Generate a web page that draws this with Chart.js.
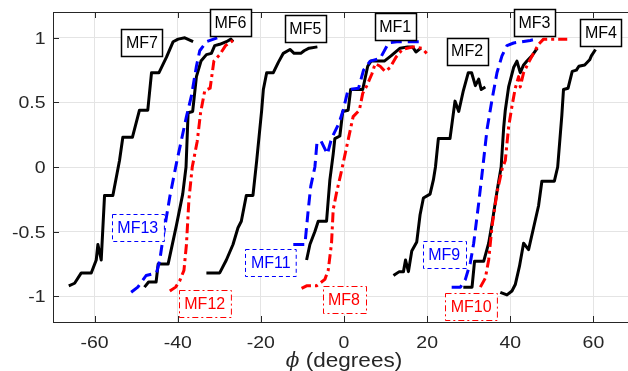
<!DOCTYPE html>
<html>
<head>
<meta charset="utf-8">
<script src="https://cdn.jsdelivr.net/npm/chart.js@4"></script>
<style>
  html, body { margin: 0; padding: 0; background: #fff; overflow: hidden; }
  #wrap { width: 650px; height: 371px; position: relative; }
</style>
</head>
<body>
<div id="wrap"><canvas id="chart"></canvas></div>
<script>
// ---- Data: [phi (deg), normalized output] per filter
const MF1 = [[-9.0,-0.72],[-8.2,-0.6],[-7.0,-0.5],[-6.2,-0.42],[-4.2,-0.42],[-3.4,-0.1],[-2.6,0.1],[-2.2,0.22],[-1.0,0.24],[-0.3,0.43],[1.0,0.44],[1.6,0.6],[4.5,0.6],[5.7,0.78],[6.5,0.82],[9.7,0.82],[11.3,0.86],[13.5,0.92],[15.3,0.93],[16.5,0.93],[17.3,0.89],[18.5,0.92]];
const MF2 = [[11.9,-0.84],[13.3,-0.81],[14.3,-0.81],[14.8,-0.72],[15.5,-0.81],[16.3,-0.65],[17.5,-0.58],[18.3,-0.37],[19.1,-0.24],[20.7,-0.21],[21.5,-0.1],[22.0,0],[22.7,0.22],[25.5,0.22],[26.7,0.51],[27.6,0.43],[28.7,0.59],[29.9,0.73],[30.7,0.73],[31.6,0.63],[32.4,0.68],[33.0,0.6],[34.0,0.62]];
const MF3 = [[28.7,-0.93],[30.8,-0.93],[31.4,-0.73],[33.6,-0.73],[34.8,-0.59],[35.6,-0.44],[36.8,-0.19],[37.8,0],[38.4,0.3],[38.8,0.44],[39.6,0.62],[40.8,0.77],[41.6,0.82],[42.4,0.73],[43.2,0.79],[44.0,0.82],[45.2,0.86],[46.5,0.92]];
const MF4 = [[37.6,-0.97],[39.2,-0.99],[40.4,-0.96],[41.2,-0.91],[42.2,-0.77],[43.2,-0.59],[44.4,-0.64],[45.6,-0.47],[46.8,-0.3],[47.6,-0.11],[50.6,-0.11],[51.4,0],[52.4,0.4],[52.8,0.6],[53.9,0.61],[54.9,0.74],[55.9,0.75],[56.5,0.78],[57.9,0.79],[59.1,0.83],[59.5,0.86],[60.5,0.91]];
const MF5 = [[-33.1,-0.82],[-29.9,-0.82],[-28.3,-0.72],[-26.7,-0.6],[-25.5,-0.47],[-24.7,-0.42],[-23.5,-0.22],[-21.9,-0.22],[-21.0,0.05],[-19.8,0.44],[-19.4,0.6],[-18.6,0.73],[-17.0,0.73],[-15.8,0.81],[-14.6,0.88],[-13.0,0.91],[-12.0,0.88],[-10.4,0.88],[-9.6,0.9],[-8.4,0.92],[-6.4,0.93]];
const MF6 = [[-48.0,-0.93],[-47.0,-0.89],[-45.2,-0.89],[-44.7,-0.75],[-42.3,-0.75],[-40.3,-0.45],[-38.8,-0.21],[-38.0,0],[-37.5,0.42],[-36.4,0.43],[-35.5,0.7],[-34.4,0.82],[-33.1,0.87],[-31.9,0.88],[-31.1,0.94],[-29.9,0.95],[-28.3,0.97],[-27.2,0.99],[-26.7,0.97]];
const MF7 = [[-66.2,-0.92],[-64.8,-0.9],[-63.2,-0.82],[-60.8,-0.82],[-59.6,-0.72],[-59.2,-0.6],[-58.4,-0.72],[-57.6,-0.22],[-55.6,-0.22],[-54.0,0.05],[-53.2,0.23],[-50.9,0.23],[-49.2,0.44],[-47.2,0.44],[-46.3,0.73],[-44.5,0.73],[-42.7,0.85],[-41.1,0.97],[-39.9,0.99],[-38.3,1.0],[-36.3,0.97]];
const MF8 = [[-10.2,-0.94],[-9.0,-0.92],[-6.6,-0.92],[-4.6,-0.87],[-3.8,-0.8],[-3.0,-0.59],[-2.6,-0.33],[-1.8,-0.2],[-0.6,-0.03],[1.0,0.21],[2.2,0.39],[3.7,0.44],[4.5,0.57],[5.5,0.63],[6.7,0.72],[7.5,0.8],[8.7,0.78],[9.9,0.74],[11.1,0.77],[12.5,0.85],[14.0,0.91],[16.7,0.93],[18.7,0.92],[19.9,0.88]];
const MF9 = [[25.9,-0.93],[28.0,-0.93],[29.2,-0.87],[30.4,-0.74],[31.2,-0.59],[32.4,-0.28],[33.4,0],[34.4,0.29],[35.6,0.52],[36.8,0.73],[38.0,0.86],[39.2,0.94],[40.8,0.96],[44.8,0.98],[46.2,0.99]];
const MF10 = [[32.8,-0.93],[34.0,-0.86],[34.8,-0.72],[35.6,-0.46],[36.8,-0.2],[38.0,-0.02],[38.8,0.05],[39.6,0.31],[40.4,0.47],[41.2,0.61],[42.0,0.7],[42.4,0.62],[43.2,0.73],[44.4,0.81],[45.6,0.88],[46.8,0.95],[48.0,0.99],[49.6,0.99],[53.7,0.99]];
const MF11 = [[-12.2,-0.6],[-9.4,-0.6],[-8.6,-0.33],[-8.0,-0.15],[-7.0,0],[-6.5,0.19],[-5.5,0.2],[-4.0,0.1],[-3.0,0.22],[-1.2,0.34],[-0.2,0.44],[1.0,0.6],[3.5,0.61],[4.7,0.75],[6.3,0.82],[8.7,0.84],[10.7,0.96],[12.7,0.97],[18.7,0.97]];
const MF12 = [[-41.9,-0.96],[-40.5,-0.93],[-39.5,-0.88],[-38.5,-0.8],[-37.9,-0.6],[-37.3,-0.25],[-36.5,0],[-35.3,0.2],[-34.5,0.42],[-33.5,0.59],[-32.2,0.61],[-31.3,0.82],[-29.9,0.87],[-28.5,0.94],[-26.7,0.98]];
const MF13 = [[-51.2,-0.97],[-49.6,-0.93],[-47.6,-0.84],[-45.1,-0.82],[-44.3,-0.72],[-43.5,-0.54],[-41.9,-0.23],[-40.3,0.03],[-37.9,0.39],[-36.7,0.55],[-35.5,0.78],[-34.7,0.9],[-33.1,0.97],[-30.5,1.0]];

const xTicks = [-60, -40, -20, 0, 20, 40, 60];
const yTicks = [-1, -0.5, 0, 0.5, 1];

// ---- Styles
const styles = {
  solid:   { color: '#000000', dash: [],           boxDash: [],           boxWidth: 1.5 },
  dash:    { color: '#0000ff', dash: [11, 6],      boxDash: [4, 3],       boxWidth: 1 },
  dashdot: { color: '#ff0000', dash: [10, 4, 3, 4], boxDash: [6, 3, 2, 3], boxWidth: 1 }
};

// drawn top-most first
const curves = [
  ['MF8', MF8, 'dashdot'], ['MF10', MF10, 'dashdot'], ['MF12', MF12, 'dashdot'],
  ['MF9', MF9, 'dash'], ['MF11', MF11, 'dash'], ['MF13', MF13, 'dash'],
  ['MF1', MF1, 'solid'], ['MF2', MF2, 'solid'], ['MF3', MF3, 'solid'], ['MF4', MF4, 'solid'],
  ['MF5', MF5, 'solid'], ['MF6', MF6, 'solid'], ['MF7', MF7, 'solid']
];

// boxed names, centre given in axis units
const tags = [
  ['MF7', -48.6, 0.967, 'solid'], ['MF6', -27.3, 1.115, 'solid'], ['MF5', -9.3, 1.072, 'solid'],
  ['MF1', 12.3, 1.088, 'solid'], ['MF2', 29.6, 0.898, 'solid'], ['MF3', 45.8, 1.115, 'solid'],
  ['MF4', 61.8, 1.041, 'solid'],
  ['MF13', -49.6, -0.467, 'dash'], ['MF11', -17.6, -0.738, 'dash'], ['MF9', 24.1, -0.68, 'dash'],
  ['MF12', -33.5, -1.056, 'dashdot'], ['MF8', 0, -1.029, 'dashdot'], ['MF10', 30.6, -1.079, 'dashdot']
];

const AXIS = '#262626';
const SANS = '"Liberation Sans", Arial, sans-serif';

function wideText(ctx, str, x, y, align, sx) {
  ctx.save();
  ctx.translate(x, y);
  ctx.scale(sx, 1);
  ctx.textAlign = align;
  ctx.fillText(str, 0, 0);
  ctx.restore();
}

// axes box, inward ticks, tick labels and x title
const frame = {
  id: 'frame',
  beforeDatasetsDraw(chart) {
    const { ctx, chartArea: a, scales: { x, y } } = chart;
    ctx.save();
    ctx.strokeStyle = AXIS;
    ctx.lineWidth = 1;
    ctx.beginPath();
    ctx.moveTo(a.left + 0.5, a.top + 0.5); ctx.lineTo(a.right, a.top + 0.5);
    ctx.moveTo(a.left + 0.5, a.top); ctx.lineTo(a.left + 0.5, a.bottom + 0.5);
    ctx.moveTo(a.left, a.bottom + 0.5); ctx.lineTo(a.right, a.bottom + 0.5);
    xTicks.forEach(v => {
      const px = Math.round(x.getPixelForValue(v)) + 0.5;
      ctx.moveTo(px, a.top); ctx.lineTo(px, a.top + 6);
      ctx.moveTo(px, a.bottom); ctx.lineTo(px, a.bottom - 6);
    });
    yTicks.forEach(v => {
      const py = Math.round(y.getPixelForValue(v)) + 0.5;
      ctx.moveTo(a.left, py); ctx.lineTo(a.left + 6, py);
    });
    ctx.stroke();
    ctx.restore();
  },
  afterDraw(chart) {
    const { ctx, chartArea: a, scales: { x, y } } = chart;
    ctx.save();
    ctx.fillStyle = AXIS;
    ctx.textBaseline = 'middle';
    ctx.font = '16.5px ' + SANS;
    yTicks.forEach(v => wideText(ctx, String(v), a.left - 7.5, y.getPixelForValue(v) + 1.5, 'right', 1.18));
    xTicks.forEach(v => wideText(ctx, String(v), x.getPixelForValue(v), 343, 'center', 1.18));

    // x title: italic phi + "(degrees)"
    ctx.textBaseline = 'alphabetic';
    const phi = '\u03D5';
    ctx.font = 'italic 20px "DejaVu Serif", serif';
    const wPhi = ctx.measureText(phi).width;
    ctx.font = '20.5px ' + SANS;
    const rest = ' (degrees)';
    const wRest = ctx.measureText(rest).width * 1.1;
    const x0 = (a.left + a.right) / 2 - (wPhi + wRest) / 2;
    ctx.font = 'italic 20px "DejaVu Serif", serif';
    ctx.textAlign = 'left';
    ctx.fillText(phi, x0, 366.5);
    ctx.font = '20.5px ' + SANS;
    wideText(ctx, rest, x0 + wPhi, 366.5, 'left', 1.1);
    ctx.restore();
  }
};

// boxed curve names
const tagBoxes = {
  id: 'tagBoxes',
  afterDatasetsDraw(chart) {
    const { ctx, scales: { x, y } } = chart;
    ctx.save();
    ctx.font = '16px ' + SANS;
    ctx.textAlign = 'center';
    ctx.textBaseline = 'middle';
    tags.forEach(([txt, vx, vy, kind]) => {
      const s = styles[kind];
      const cx = x.getPixelForValue(vx), cy = y.getPixelForValue(vy);
      const w = ctx.measureText(txt).width + (kind === 'solid' ? 9 : 11);
      const h = 27;
      const l = Math.round(cx - w / 2) + 0.5, t = Math.round(cy - h / 2) + 0.5;
      ctx.fillStyle = '#fff';
      ctx.fillRect(l, t, w, h);
      ctx.setLineDash(s.boxDash);
      ctx.lineWidth = s.boxWidth;
      ctx.strokeStyle = s.color;
      ctx.strokeRect(l, t, w, h);
      ctx.setLineDash([]);
      ctx.fillStyle = s.color;
      ctx.fillText(txt, cx, cy + 1);
    });
    ctx.restore();
  }
};

new Chart(document.getElementById('chart'), {
  type: 'line',
  data: {
    datasets: curves.map(([name, pts, kind]) => ({
      label: name,
      data: pts.map(([px, py]) => ({ x: px, y: py })),
      borderColor: styles[kind].color,
      borderDash: styles[kind].dash,
      borderWidth: 3,
      borderJoinStyle: 'round',
      pointRadius: 0,
      tension: 0,
      fill: false
    }))
  },
  options: {
    responsive: true,
    maintainAspectRatio: false,
    animation: false,
    events: [],
    layout: { padding: { left: 0, right: 15, top: 12, bottom: 0 } },
    plugins: { legend: { display: false }, tooltip: { enabled: false } },
    scales: {
      x: {
        type: 'linear', min: -70, max: 70,
        afterBuildTicks: s => { s.ticks = xTicks.map(v => ({ value: v })); },
        afterFit: s => { s.height = 49; },
        ticks: { display: false },
        grid: { color: '#e4e4e4', drawTicks: false },
        border: { display: false }
      },
      y: {
        type: 'linear', min: -1.2, max: 1.2,
        afterBuildTicks: s => { s.ticks = yTicks.map(v => ({ value: v })); },
        afterFit: s => { s.width = 53; },
        ticks: { display: false },
        grid: { color: '#e4e4e4', drawTicks: false },
        border: { display: false }
      }
    }
  },
  plugins: [frame, tagBoxes]
});
</script>
</body>
</html>
